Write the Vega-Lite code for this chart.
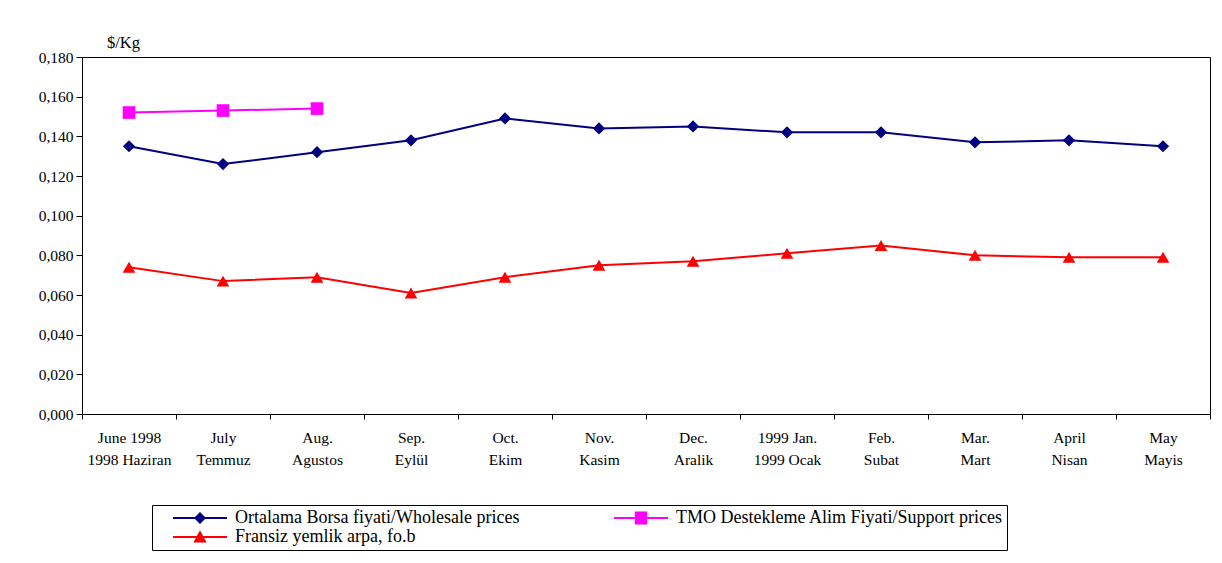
{
  "$schema": "https://vega.github.io/schema/vega-lite/v6.json",
  "autosize": "none",
  "width": 1128,
  "height": 357,
  "padding": {"left": 82, "top": 57, "right": 12, "bottom": 149},
  "background": "white",
  "config": {
    "font": "Liberation Serif",
    "view": {"stroke": "black", "strokeWidth": 1},
    "axis": {"labelFont": "Liberation Serif", "titleFont": "Liberation Serif", "labelColor": "black", "titleColor": "black", "domainColor": "black", "tickColor": "black", "grid": false, "labelFontSize": 15.5, "titleFontSize": 16.5, "titleFontWeight": "normal", "labelOverlap": false},
    "legend": {"labelFont": "Liberation Serif", "labelFontSize": 18, "labelColor": "black"}
  },
  "data": {"values": [
    {"month": "June 1998|1998 Haziran", "series": "Ortalama Borsa fiyati/Wholesale prices", "value": 0.135},
    {"month": "July|Temmuz", "series": "Ortalama Borsa fiyati/Wholesale prices", "value": 0.126},
    {"month": "Aug.|Agustos", "series": "Ortalama Borsa fiyati/Wholesale prices", "value": 0.132},
    {"month": "Sep.|Eylül", "series": "Ortalama Borsa fiyati/Wholesale prices", "value": 0.138},
    {"month": "Oct.|Ekim", "series": "Ortalama Borsa fiyati/Wholesale prices", "value": 0.149},
    {"month": "Nov.|Kasim", "series": "Ortalama Borsa fiyati/Wholesale prices", "value": 0.144},
    {"month": "Dec.|Aralik", "series": "Ortalama Borsa fiyati/Wholesale prices", "value": 0.145},
    {"month": "1999 Jan.|1999 Ocak", "series": "Ortalama Borsa fiyati/Wholesale prices", "value": 0.142},
    {"month": "Feb.|Subat", "series": "Ortalama Borsa fiyati/Wholesale prices", "value": 0.142},
    {"month": "Mar.|Mart", "series": "Ortalama Borsa fiyati/Wholesale prices", "value": 0.137},
    {"month": "April|Nisan", "series": "Ortalama Borsa fiyati/Wholesale prices", "value": 0.138},
    {"month": "May|Mayis", "series": "Ortalama Borsa fiyati/Wholesale prices", "value": 0.135},
    {"month": "June 1998|1998 Haziran", "series": "TMO Destekleme Alim Fiyati/Support prices", "value": 0.152},
    {"month": "July|Temmuz", "series": "TMO Destekleme Alim Fiyati/Support prices", "value": 0.153},
    {"month": "Aug.|Agustos", "series": "TMO Destekleme Alim Fiyati/Support prices", "value": 0.154},
    {"month": "June 1998|1998 Haziran", "series": "Fransiz yemlik arpa, fo.b", "value": 0.074},
    {"month": "July|Temmuz", "series": "Fransiz yemlik arpa, fo.b", "value": 0.067},
    {"month": "Aug.|Agustos", "series": "Fransiz yemlik arpa, fo.b", "value": 0.069},
    {"month": "Sep.|Eylül", "series": "Fransiz yemlik arpa, fo.b", "value": 0.061},
    {"month": "Oct.|Ekim", "series": "Fransiz yemlik arpa, fo.b", "value": 0.069},
    {"month": "Nov.|Kasim", "series": "Fransiz yemlik arpa, fo.b", "value": 0.075},
    {"month": "Dec.|Aralik", "series": "Fransiz yemlik arpa, fo.b", "value": 0.077},
    {"month": "1999 Jan.|1999 Ocak", "series": "Fransiz yemlik arpa, fo.b", "value": 0.081},
    {"month": "Feb.|Subat", "series": "Fransiz yemlik arpa, fo.b", "value": 0.085},
    {"month": "Mar.|Mart", "series": "Fransiz yemlik arpa, fo.b", "value": 0.080},
    {"month": "April|Nisan", "series": "Fransiz yemlik arpa, fo.b", "value": 0.079},
    {"month": "May|Mayis", "series": "Fransiz yemlik arpa, fo.b", "value": 0.079}
  ]},
  "encoding": {
    "x": {"field": "month", "type": "ordinal", "sort": null,
      "scale": {"type": "band", "paddingInner": 0, "paddingOuter": 0},
      "axis": {"title": null, "labelAngle": 0, "labelExpr": "split(datum.label, '|')", "labelPadding": 11, "labelLineHeight": 22, "tickBand": "extent", "tickSize": 5, "labelBaseline": "top"}},
    "y": {"field": "value", "type": "quantitative",
      "scale": {"domain": [0, 0.18], "nice": false, "zero": true},
      "axis": {"title": "$/Kg", "titleAngle": 0, "titleX": 41, "titleY": -7, "titleAlign": "center", "titleBaseline": "bottom", "values": [0, 0.02, 0.04, 0.06, 0.08, 0.1, 0.12, 0.14, 0.16, 0.18], "labelExpr": "replace(format(datum.value, '.3f'), '.', ',')", "tickSize": 6, "labelPadding": 3}},
    "color": {"field": "series", "type": "nominal",
      "scale": {"domain": ["Ortalama Borsa fiyati/Wholesale prices", "TMO Destekleme Alim Fiyati/Support prices", "Fransiz yemlik arpa, fo.b"], "range": ["#000080", "#FF00FF", "#FF0000"]},
      "legend": {"title": null, "orient": "none", "legendX": 70, "legendY": 448, "direction": "horizontal", "columns": 2, "columnPadding": 77, "rowPadding": 1, "padding": 4, "strokeColor": "black", "symbolSize": 256, "symbolStrokeWidth": 0, "symbolOpacity": 1, "labelOffset": 61, "labelLimit": 500,
        "encode": {"symbols": {"update": {"fill": {"scale": "color", "field": "value"}, "stroke": {"value": "transparent"}, "opacity": {"value": 1}, "shape": {"signal": "datum.index === 0 ? 'M1,-0.13H7.75V0.13H1Z M4.375,-0.75L5.125,0L4.375,0.75L3.625,0Z' : datum.index === 1 ? 'M1,-0.13H7.75V0.13H1Z M3.6,-0.8H5.15V0.8H3.6Z' : 'M1,-0.13H7.75V0.13H1Z M4.375,-0.85L5.2,0.7H3.55Z'"}}}}}}
  },
  "layer": [
    {"mark": {"type": "line", "strokeWidth": 2}},
    {"transform": [{"filter": "datum.series === 'Ortalama Borsa fiyati/Wholesale prices'"}],
     "mark": {"type": "point", "filled": true, "opacity": 1, "size": 150, "shape": "diamond"}},
    {"transform": [{"filter": "datum.series === 'TMO Destekleme Alim Fiyati/Support prices'"}],
     "mark": {"type": "point", "filled": true, "opacity": 1, "size": 160, "shape": "square"}},
    {"transform": [{"filter": "datum.series === 'Fransiz yemlik arpa, fo.b'"}],
     "mark": {"type": "point", "filled": true, "opacity": 1, "size": 160, "shape": "triangle-up"}}
  ]
}
